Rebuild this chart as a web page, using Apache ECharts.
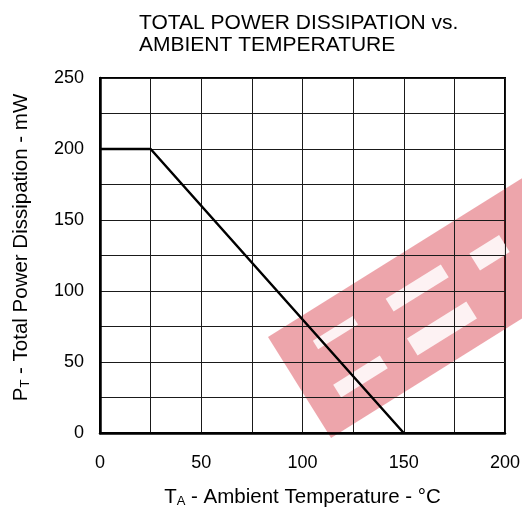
<!DOCTYPE html>
<html>
<head>
<meta charset="utf-8">
<script src="https://cdn.jsdelivr.net/npm/echarts@6/dist/echarts.min.js"></script>
<style>html,body{margin:0;padding:0;background:#fff;}#c{width:522px;height:512px;}</style>
</head>
<body>
<div id="c"></div>
<script>
var titleLines = ['TOTAL POWER DISSIPATION vs.', 'AMBIENT TEMPERATURE'];
var temperature = [0, 25, 150];
var power = [200, 200, 0];
var xTickLabels = [0, 50, 100, 150, 200];
var yTickLabels = [0, 50, 100, 150, 200, 250];

var F = '"Liberation Sans", Arial, sans-serif';
var chart = echarts.init(document.getElementById('c'), null, {renderer: 'canvas'});
var pts = temperature.map(function (t, i) { return [t, power[i]]; });

var wmColor = 'rgba(210,30,45,0.4)';
var wmWhite = 'rgba(255,255,255,0.85)';
chart.setOption({
  animation: false,
  backgroundColor: '#fff',
  title: {
    text: titleLines.join('\n'),
    left: 134, top: 7,
    textStyle: {fontFamily: F, fontSize: 21, fontWeight: 'normal', color: '#000', lineHeight: 22}
  },
  grid: {left: 100, right: 17, top: 78, bottom: 79, show: true, borderColor: '#000', borderWidth: 2,
         containLabel: false, outerBoundsMode: 'none'},
  xAxis: {
    type: 'value', min: 0, max: 200, interval: 25,
    name: '{n|T}{s|A}{n| - Ambient Temperature - °C}',
    nameLocation: 'middle', nameGap: 54,
    nameTextStyle: {rich: {
      n: {fontFamily: F, fontSize: 20.5, color: '#000'},
      s: {fontFamily: F, fontSize: 13, color: '#000', verticalAlign: 'bottom'}
    }},
    axisLine: {show: true, lineStyle: {color: '#000', width: 2.5}},
    axisTick: {show: false},
    splitLine: {show: true, lineStyle: {color: '#1a1a1a', width: 1}},
    axisLabel: {
      margin: 21, fontFamily: F, fontSize: 18, color: '#000',
      formatter: function (v) { return xTickLabels.indexOf(v) >= 0 ? String(v) : ''; }
    }
  },
  yAxis: {
    type: 'value', min: 0, max: 250, interval: 25,
    name: '{n|P}{s|T}{n| - Total Power Dissipation - mW}',
    nameLocation: 'middle', nameGap: 68, nameRotate: 90,
    nameTextStyle: {padding: [0, 0, 0, 16], rich: {
      n: {fontFamily: F, fontSize: 20.5, color: '#000'},
      s: {fontFamily: F, fontSize: 13, color: '#000', verticalAlign: 'bottom'}
    }},
    axisLine: {show: true, lineStyle: {color: '#000', width: 2.5}},
    axisTick: {show: false},
    splitLine: {show: true, lineStyle: {color: '#1a1a1a', width: 1}},
    axisLabel: {
      margin: 16, fontFamily: F, fontSize: 18, color: '#000',
      formatter: function (v) { return yTickLabels.indexOf(v) >= 0 ? String(v) : ''; }
    }
  },
  series: [{
    type: 'line', data: pts, showSymbol: false, symbol: 'none',
    lineStyle: {color: '#000', width: 2.5}, z: 5
  }],
  graphic: [{
    type: 'group', x: 268, y: 337, rotation: 32 * Math.PI / 180, z: 100,
    children: [
      {type: 'rect', shape: {x: 0, y: 0, width: 420, height: 119}, style: {fill: wmColor}},
      {type: 'rect', shape: {x: 36, y: 27, width: 47, height: 10}, style: {fill: wmWhite}},
      {type: 'rect', shape: {x: 30, y: 75, width: 55, height: 15}, style: {fill: wmWhite}},
      {type: 'rect', shape: {x: 120, y: 30, width: 65, height: 15}, style: {fill: wmWhite}},
      {type: 'rect', shape: {x: 117, y: 75, width: 70, height: 20}, style: {fill: wmWhite}},
      {type: 'rect', shape: {x: 215, y: 36, width: 35, height: 20}, style: {fill: wmWhite}}
    ]
  }]
});
</script>
</body>
</html>
